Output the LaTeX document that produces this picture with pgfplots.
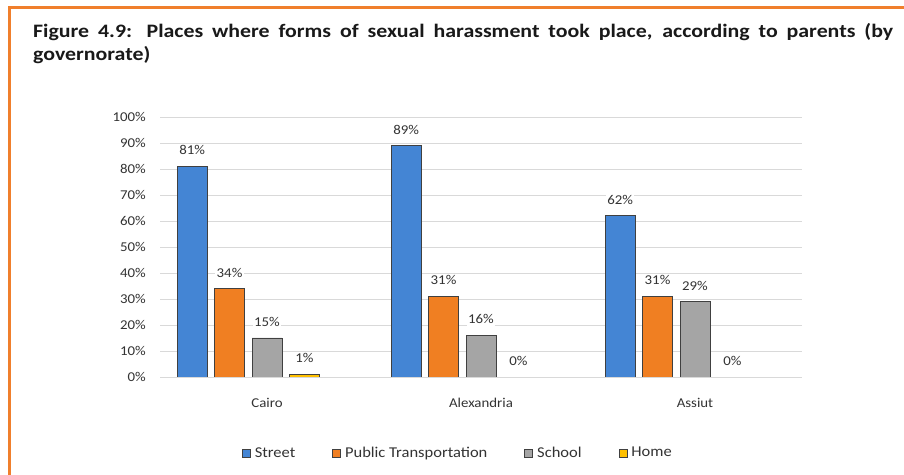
\documentclass[border=0pt]{standalone}
\usepackage{fontspec}
\setmainfont{Carlito}[FakeStretch=1.1]
\newfontfamily\titlefont{Carlito}[FakeStretch=1.15]
\usepackage{pgfplots}
\pgfplotsset{compat=1.18}
\definecolor{cblue}{HTML}{4485D4}
\definecolor{corange}{HTML}{F07F22}
\definecolor{cgray}{HTML}{A5A5A5}
\definecolor{cyellow}{HTML}{FFC000}
\definecolor{frameor}{HTML}{F07F2C}
\definecolor{gridc}{HTML}{D9D9D9}
\definecolor{txt}{HTML}{333333}
\begin{document}
\begin{tikzpicture}
\path[use as bounding box] (0bp,0bp) rectangle (904bp,475bp);
\fill[white] (0bp,0bp) rectangle (904bp,475bp);
\draw[frameor, line width=3bp] (904bp,467bp) -- (9bp,467bp) -- (9bp,0bp);
\node[anchor=base west, inner sep=0pt, text width=860bp, align=justify,
      font=\titlefont\bfseries\fontsize{19bp}{22.5bp}\selectfont, text=black!90]
  at (33bp,437bp) {Figure 4.9: Places where forms of sexual harassment took place, according to parents (by\linebreak governorate)};
\begin{axis}[
  at={(160bp,98bp)}, anchor=south west,
  scale only axis, width=642bp, height=260bp,
  xmin=-0.5, xmax=2.5, ymin=0, ymax=100,
  axis line style={draw=none},
  ymajorgrids, grid style={gridc, line width=0.9bp},
  xtick={0,1,2}, xticklabels={Cairo,Alexandria,Assiut},
  ytick={0,10,...,100},
  major tick length=0pt,
  yticklabel={\pgfmathprintnumber{\tick}\%},
  /pgf/number format/assume math mode=true,
  ticklabel style={font=\fontsize{13.5bp}{16bp}\selectfont, text=txt},
  yticklabel style={anchor=east, inner sep=0pt, xshift=-14bp},
  xticklabel style={anchor=base, inner sep=0pt, yshift=-30bp},
  bar width=0.14,
  nodes near coords={\pgfmathprintnumber{\pgfplotspointmeta}\%},
  nodes near coords style={anchor=base, yshift=11.5bp, inner sep=1.5bp, fill=white,
     font=\fontsize{13.5bp}{16bp}\selectfont, text=txt},
  legend columns=4,
  legend style={at={(0.464,-0.292)}, anchor=center, draw=none, fill=none,
     font=\fontsize{15bp}{18bp}\selectfont, text=txt,
     /tikz/every odd column/.append style={column sep=2bp},
     /tikz/every even column/.append style={column sep=35bp}},
  legend image code/.code={\draw[#1, line width=0.8bp] (0bp,-4bp) rectangle (8bp,4bp);},
]
\addplot[ybar, bar shift=0pt, fill=cblue, draw=black!75, line width=0.8bp]
  coordinates {(-0.35,81) (0.65,89) (1.65,62)};
\addplot[ybar, bar shift=0pt, fill=corange, draw=black!75, line width=0.8bp]
  coordinates {(-0.175,34) (0.825,31) (1.825,31)};
\addplot[ybar, bar shift=0pt, fill=cgray, draw=black!75, line width=0.8bp]
  coordinates {(0,15) (1,16) (2,29)};
\addplot[ybar, bar shift=0pt, fill=cyellow, draw=black!75, line width=0.8bp]
  coordinates {(0.175,1) (1.175,0) (2.175,0)};
\legend{Street, Public Transportation, School, Home}
\end{axis}
\end{tikzpicture}
\end{document}
